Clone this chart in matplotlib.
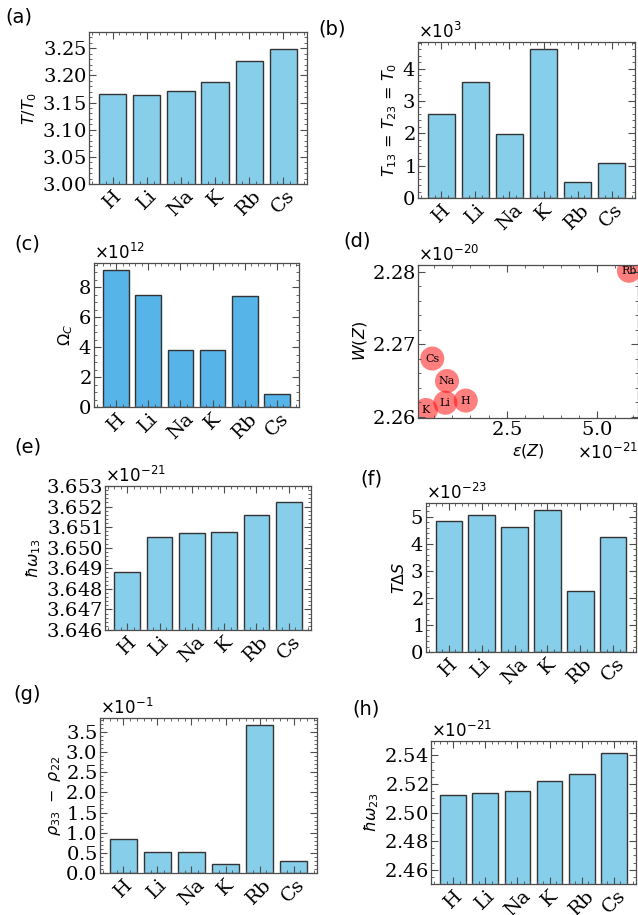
import numpy as np
import matplotlib
matplotlib.use("Agg")
import matplotlib.pyplot as plt
from matplotlib.ticker import AutoMinorLocator, ScalarFormatter, MultipleLocator

elements = ["H", "Li", "Na", "K", "Rb", "Cs"]
t_ratio = [3.165, 3.164, 3.172, 3.187, 3.226, 3.248]
t13 = [2590, 3590, 1990, 4590, 490, 1080]
omega_c = [9.16e12, 7.49e12, 3.78e12, 3.78e12, 7.44e12, 0.84e12]
eps_z = [1.37e-21, 0.806e-21, 0.852e-21, 0.269e-21, 5.88e-21, 0.444e-21]
w_z = [2.2622e-20, 2.2619e-20, 2.2649e-20, 2.2609e-20, 2.2801e-20, 2.2680e-20]
hw13 = [3.6488e-21, 3.6505e-21, 3.65073e-21, 3.65076e-21, 3.65157e-21, 3.65221e-21]
t_ds = [4.85e-23, 5.06e-23, 4.61e-23, 5.25e-23, 2.24e-23, 4.24e-23]
d_rho = [0.085, 0.051, 0.053, 0.0215, 0.366, 0.029]
hw23 = [2.512e-21, 2.5134e-21, 2.515e-21, 2.5223e-21, 2.5272e-21, 2.5419e-21]

W, H = 638, 915
fig = plt.figure(figsize=(W / 100, H / 100), dpi=100)


def rect(l, t, r, b):
    return [l / W, 1 - b / H, (r - l) / W, (b - t) / H]


def sci():
    fmt = ScalarFormatter(useMathText=True, useOffset=False)
    fmt.set_powerlimits((0, 0))
    return fmt


def style(ax, ystep):
    ax.yaxis.set_major_locator(MultipleLocator(ystep))
    ax.yaxis.set_major_formatter(sci())
    ax.yaxis.set_minor_locator(AutoMinorLocator())
    ax.xaxis.set_minor_locator(AutoMinorLocator())
    ax.tick_params(which="both", direction="in", top=True, right=True,
                   color="0.3", labelsize=14, labelfontfamily="DejaVu Serif")
    ax.tick_params(which="major", length=5, width=0.8, pad=2)
    ax.tick_params(which="minor", length=2.5, width=0.6)
    for s in ax.spines.values():
        s.set_color("0.3")
        s.set_linewidth(0.9)
    ax.yaxis.get_offset_text().set_fontsize(12)


def bars(pos, vals, ylabel, ystep, color="#87CEEB", ylim=None):
    ax = fig.add_axes(rect(*pos))
    x = np.arange(len(elements))
    ax.bar(x, vals, width=0.8, color=color, edgecolor="0.2", linewidth=1.0)
    if ylim is not None:
        ax.set_ylim(ylim)
    ax.set_xticks(x)
    ax.set_xticklabels(elements, rotation=45)
    ax.set_ylabel(ylabel, fontsize=11.5, labelpad=2)
    style(ax, ystep)
    return ax


bars((89, 32, 307, 184), t_ratio, r"$T/T_0$", 0.05, ylim=(3.0, 3.28))
bars((418, 42, 635, 198), t13, r"$T_{13}$ = $T_{23}$ = $T_0$", 1000)
bars((94, 263, 299, 407), omega_c, r"$\Omega_C$", 2e12, color="#56B4E9")

# (d) scatter
ax = fig.add_axes(rect(418, 265, 638, 418))
ax.scatter(eps_z, w_z, s=300, color="red", alpha=0.5, edgecolors="none")
for name, xv, yv in zip(elements, eps_z, w_z):
    ax.text(xv, yv, name, ha="center", va="center", fontsize=8,
            family="DejaVu Serif")
ax.set_xlim(0.05e-21, 6.13e-21)
ax.set_ylim(2.2598e-20, 2.2809e-20)
ax.set_xlabel(r"$\varepsilon(Z)$", fontsize=11.5, labelpad=2)
ax.set_ylabel(r"$W(Z)$", fontsize=11.5, labelpad=2)
style(ax, 0.01e-20)
ax.xaxis.set_major_locator(MultipleLocator(2.5e-21))
ax.xaxis.set_minor_locator(AutoMinorLocator())
ax.xaxis.set_major_formatter(sci())
ax.xaxis.get_offset_text().set_fontsize(12)

bars((105, 486, 311, 630), hw13, r"$\hbar\omega_{13}$", 0.001e-21,
     ylim=(3.646e-21, 3.653e-21))
bars((426, 503, 636, 652), t_ds, r"$T\Delta S$", 1e-23)
bars((100, 718, 317, 873), d_rho, r"$\rho_{33}\ -\ \rho_{22}$", 0.05)
bars((431, 741, 636, 884), hw23, r"$\hbar\omega_{23}$", 0.02e-21,
     ylim=(2.45e-21, 2.55e-21))

panel = [("(a)", 19, 17), ("(b)", 332, 29), ("(c)", 27, 244), ("(d)", 357, 241),
         ("(e)", 28, 447), ("(f)", 371, 479), ("(g)", 27, 694), ("(h)", 366, 709)]
for lab, px, py in panel:
    fig.text(px / W, 1 - py / H, lab, fontsize=14, ha="center", va="center")

fig.savefig("out.png", dpi=100)
